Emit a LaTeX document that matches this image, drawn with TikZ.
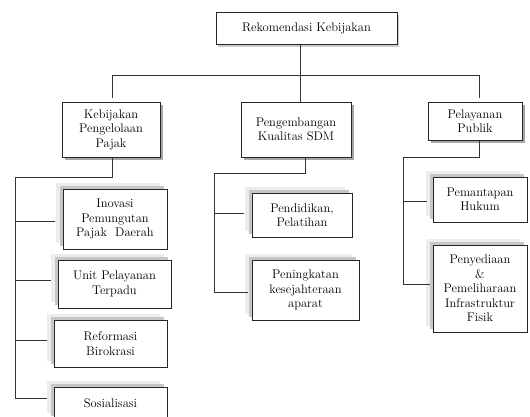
\documentclass[tikz,border=0pt]{standalone}
\begin{document}
\begin{tikzpicture}[x=1pt,y=-1pt,
  txt/.style={align=center,font=\fontsize{12.5}{14.5}\selectfont,text=black,inner sep=0pt},
  topbox/.style={txt,draw=black!85,line width=1pt,fill=white,
    preaction={draw=none,fill=gray!40,transform canvas={shift={(2pt,-2.5pt)}}}},
  midbox/.style={txt,draw=black!85,line width=1pt,fill=white,
    preaction={draw=none,fill=gray!70,transform canvas={shift={(2.5pt,-2.5pt)}}}},
  leafbox/.style={txt,draw=black!85,line width=1pt,fill=white,
    preaction={draw=none,fill=gray!15,transform canvas={shift={(-7pt,6pt)}}},
    preaction={draw=none,fill=gray!45,transform canvas={shift={(-3pt,3pt)}}}},
  conn/.style={draw=black!80,line width=0.9pt}]
\useasboundingbox (0,0) rectangle (530,416);
\begin{scope}
\clip (0,0) rectangle (530,416);
% level 0
\node[topbox,minimum width=181pt,minimum height=32pt] (top) at (306.5,28) {Rekomendasi Kebijakan};
% level 1
\node[midbox,minimum width=98pt,minimum height=55pt] (L1) at (111,129.5) {Kebijakan\\Pengelolaan\\Pajak};
\node[midbox,minimum width=110pt,minimum height=55pt] (M1) at (296,129.5) {Pengembangan\\Kualitas SDM};
\node[midbox,minimum width=94pt,minimum height=38pt] (R1) at (475,121) {Pelayanan\\Publik};
% leaves left
\node[leafbox,minimum width=104pt,minimum height=60pt] (La) at (115,219) {Inovasi\\Pemungutan\\Pajak\ \ Daerah};
\node[leafbox,minimum width=113pt,minimum height=48pt] (Lb) at (114.5,284) {Unit Pelayanan\\Terpadu};
\node[leafbox,minimum width=113pt,minimum height=47pt] (Lc) at (110.5,343.5) {Reformasi\\Birokrasi};
\node[leafbox,minimum width=113pt,minimum height=32pt] (Ld) at (110.5,403) {Sosialisasi};
% leaves middle
\node[leafbox,minimum width=100pt,minimum height=44pt] (Ma) at (302,215) {Pendidikan,\\Pelatihan};
\node[leafbox,minimum width=107pt,minimum height=60pt] (Mb) at (305.5,290) {Peningkatan\\kesejahteraan\\aparat};
% leaves right
\node[leafbox,minimum width=94pt,minimum height=45pt] (Ra) at (480,199.5) {Pemantapan\\Hukum};
\node[leafbox,minimum width=94pt,minimum height=87pt] (Rb) at (480,288.5) {Penyediaan\\\&\\Pemeliharaan\\Infrastruktur\\Fisik};
\end{scope}
% bus coordinates
\coordinate (busL) at (112,75);
\coordinate (busM) at (300,75);
\coordinate (busR) at (479,75);
\coordinate (lb) at (112,177);
\coordinate (lt) at (15,177);
\coordinate (mb) at (305,173);
\coordinate (mt) at (214,173);
\coordinate (rb) at (479,157);
\coordinate (rt) at (403,157);
% connector end points beside the leaves
\coordinate (Law) at ([xshift=-8pt,yshift=-2pt]La.west);
\coordinate (Lbw) at ([xshift=-7pt,yshift=4pt]Lb.west);
\coordinate (Lcw) at ([xshift=-7pt,yshift=3.5pt]Lc.west);
\coordinate (Ldw) at ([xshift=-7pt,yshift=5pt]Ld.west);
\coordinate (Maw) at ([xshift=-8pt,yshift=2pt]Ma.west);
\coordinate (Mbw) at ([xshift=-4pt,yshift=-2pt]Mb.west);
\coordinate (Raw) at ([xshift=-6pt,yshift=-1.5pt]Ra.west);
\coordinate (Rbw) at ([xshift=-3pt,yshift=4.5pt]Rb.west);
% top level connectors
\draw[conn] (top.south -| busM) -- (M1.north -| busM);
\draw[conn] (busL) -- (busR);
\draw[conn] (busL) -- ([yshift=4pt]L1.north -| busL);
\draw[conn] (busR) -- ([yshift=4pt]R1.north -| busR);
% left subtree
\draw[conn] (L1.south -| lb) -- (lb) -- (lt) -- (lt |- Ldw);
\draw[conn] (lt |- Law) -- (Law);
\draw[conn] (lt |- Lbw) -- (Lbw);
\draw[conn] (lt |- Lcw) -- (Lcw);
\draw[conn] (lt |- Ldw) -- (Ldw);
% middle subtree
\draw[conn] (M1.south -| mb) -- (mb) -- (mt) -- (mt |- Mbw);
\draw[conn] (mt |- Maw) -- (Maw);
\draw[conn] (mt |- Mbw) -- (Mbw);
% right subtree
\draw[conn] (R1.south -| rb) -- (rb) -- (rt) -- (rt |- Rbw);
\draw[conn] (rt |- Raw) -- (Raw);
\draw[conn] (rt |- Rbw) -- (Rbw);
\end{tikzpicture}
\end{document}
